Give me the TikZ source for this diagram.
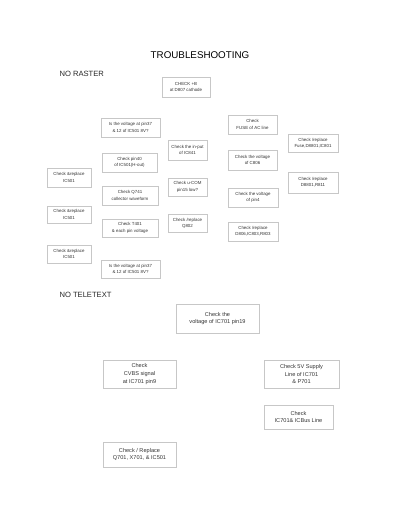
\documentclass[tikz,border=0pt]{standalone}
\usepackage{fontspec}
\setmainfont{Liberation Sans}
\begin{document}
\begin{tikzpicture}[x=1pt,y=-1pt,
  box/.style={draw=black!22, line width=0.5pt, inner sep=0pt, align=center,
    text=black!80, font=\fontsize{4.4}{6.3}\selectfont},
  bigbox/.style={box, font=\fontsize{5.6}{7.8}\selectfont},
  head/.style={anchor=west, font=\fontsize{7.6}{9}\selectfont, text=black!85}]
\useasboundingbox (0,0) rectangle (400,518);
\node[font=\fontsize{9.8}{11}\selectfont] (title) at (200,55) {TROUBLESHOOTING};
\node[head] (raster) at (56,73.5) {NO RASTER};
\node[box, minimum width=48pt, minimum height=20pt] (cb) at (186,87) {CHECK +B\\at D807 cathode};
% left column
\node[box, minimum width=59pt, minimum height=19pt] (l1) at (130.5,127.5) {Is the voltage at pin37\\\& 12 of IC501 8V?};
\node[box, minimum width=55pt, minimum height=19pt] (l2) at (129.5,162.5) {Check pin40\\of IC501(H-out)};
\node[box, minimum width=56pt, minimum height=19pt] (l3) at (130,195.5) {Check Q741\\collector waveform};
\node[box, minimum width=56pt, minimum height=18pt] (l4) at (130,228) {Check T401\\\& each pin voltage};
\node[box, minimum width=59pt, minimum height=18pt] (l5) at (130.5,269) {Is the voltage at pin37\\\& 12 of IC501 8V?};
% far left
\node[box, minimum width=44pt, minimum height=19pt] (fa) at (69,177.5) {Check \&replace\\IC501};
\node[box, minimum width=44pt, minimum height=17pt] (fb) at (69,214.5) {Check \&replace\\IC501};
\node[box, minimum width=44pt, minimum height=18pt] (fc) at (69,254) {Check \&replace\\IC501};
% middle
\node[box, minimum width=39pt, minimum height=20pt] (m1) at (187.5,150) {Check the in-put\\of IC841};
\node[box, minimum width=39pt, minimum height=18pt] (m2) at (187.5,187) {Check u-COM\\pin15 low?};
\node[box, minimum width=39pt, minimum height=18pt] (m3) at (187.5,223) {Check /replace\\Q802};
% right
\node[box, minimum width=49pt, minimum height=19pt] (r1) at (252.5,124.5) {Check\\FUSE of AC line};
\node[box, minimum width=49pt, minimum height=20pt] (r2) at (252.5,160) {Check the voltage\\of C806};
\node[box, minimum width=50pt, minimum height=19pt] (r3) at (253,197.5) {Check the voltage\\of pin4};
\node[box, minimum width=50pt, minimum height=19pt] (r4) at (253,231.5) {Check /replace\\D806,IC803,R803};
\node[box, minimum width=50pt, minimum height=18pt] (rr1) at (313,143) {Check /replace\\Fuse,D8801,IC801};
\node[box, minimum width=50pt, minimum height=21pt] (rr2) at (313,182.5) {Check /replace\\D8801,R811};
% no teletext
\node[head] (tele) at (56,294.5) {NO TELETEXT};
\node[bigbox, minimum width=83pt, minimum height=29pt] (t1) at (217.5,318.5) {Check the\\voltage of IC701 pin19};
\node[bigbox, minimum width=73pt, minimum height=28pt] (t2) at (139.5,374) {Check\\CVBS signal\\at IC701 pin9};
\node[bigbox, minimum width=75pt, minimum height=28pt] (t3) at (301.5,374) {Check 5V Supply\\Line of IC701\\\& P701};
\node[bigbox, minimum width=69pt, minimum height=24pt] (t4) at (298.5,417) {Check\\IC701\& ICBus Line};
\node[bigbox, minimum width=73pt, minimum height=25pt] (t5) at (139.5,454.5) {Check / Replace\\Q701, X701, \& IC501};
\end{tikzpicture}
\end{document}
